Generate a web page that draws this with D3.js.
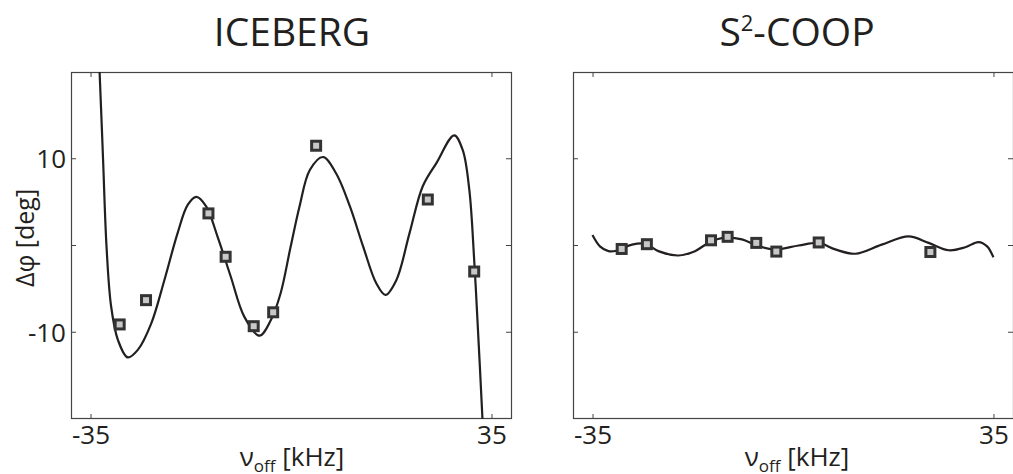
<!DOCTYPE html>
<html>
<head>
<meta charset="utf-8">
<script src="https://cdn.jsdelivr.net/npm/d3@7"></script>
<style>
  body { margin: 0; background: #fff; }
  svg { display: block; }
  text { font-family: "Open Sans", "Noto Sans", sans-serif; fill: #231f20; }
</style>
</head>
<body>
<div id="chart"></div>
<script>
// axis setup
var xTicks = [-35, 35];
var yTicks = [-10, 0, 10];
var yTickLabels = ["-10", "", "10"];

// measured points (squares)
var icebergMeasX = [-30.0, -25.4, -14.5, -11.5, -6.6, -3.2, 4.3, 23.8, 31.9];
var icebergMeasY = [-9.1, -6.3, 3.7, -1.3, -9.3, -7.7, 11.5, 5.3, -3.0];

var coopMeasX = [-30.0, -25.6, -14.4, -11.5, -6.5, -3.0, 4.4, 23.9];
var coopMeasY = [-0.4, 0.15, 0.6, 1.0, 0.3, -0.7, 0.35, -0.75];

// fitted curves
var icebergFitX = [-34.0, -33.5, -32.9, -32.3, -31.5, -30.3, -28.6, -26.8, -24.5, -22.2, -19.9, -18.1, -16.6,
    -14.9, -12.9, -10.6, -8.25, -5.6, -3.6, -1.9, -0.2, 1.4, 3.2, 5.5, 7.8, 10.2, 12.5, 14.8, 16.4,
    18.3, 20.6, 22.9, 25.3, 28.4, 29.9, 31.05, 31.9, 32.5, 33.35, 33.6];
var icebergFitY = [27, 19.9, 9.9, -0.1, -7.0, -10.9, -12.9, -12.0, -9.0, -4.0, 1.4, 4.7, 5.6,
    4.5, 1.0, -3.6, -8.2, -10.4, -8.6, -5.5, -0.3, 4.5, 8.7, 10.2, 8.3, 4.5, -0.1, -4.35, -5.7,
    -4.0, 1.4, 6.8, 9.5, 12.7, 11.0, 6.4, -1.7, -9.0, -20.1, -24];

var coopFitX = [-35.1, -33.8, -32.3, -30.9, -28.2, -25.9, -23.6, -20.1, -17.2, -14.6, -11.9, -9.0, -6.4,
    -3.2, 0.9, 4.4, 7.3, 10.8, 15.4, 20.1, 23.6, 27.1, 30.0, 32.3, 33.8, 34.9];
var coopFitY = [1.2, -0.1, -0.65, -0.6, 0.1, 0.2, -0.65, -1.15, -0.65, 0.4, 0.9, 0.7, 0.0,
    -0.45, 0.0, 0.3, -0.45, -0.95, 0.1, 1.05, 0.3, -0.55, -0.2, 0.4, -0.1, -1.35];

var panels = [
    { title: "ICEBERG", measX: icebergMeasX, measY: icebergMeasY, fitX: icebergFitX, fitY: icebergFitY,
      left: 71, right: 512, yLabels: true },
    { title: "S2-COOP", measX: coopMeasX, measY: coopMeasY, fitX: coopFitX, fitY: coopFitY,
      left: 573, right: 1014, yLabels: false }
];

var width = 1013,
    height = 474,
    plotTop = 72,
    plotBottom = 419,
    tickLen = 5,
    axisColor = '#444',
    lineColor = '#231f20';

var svg = d3.select("#chart").append("svg")
    .attr("width", width)
    .attr("height", height);

panels.forEach(function(p, pi) {

    var x = d3.scaleLinear().domain([-38.5, 38.5]).range([p.left, p.right]);
    var y = d3.scaleLinear().domain([-20, 20]).range([plotBottom, plotTop]);

    var g = svg.append("g");

    // clip for the fit curve
    var clipId = "clip" + pi;
    svg.append("clipPath").attr("id", clipId)
        .append("rect")
        .attr("x", p.left).attr("y", plotTop)
        .attr("width", p.right - p.left).attr("height", plotBottom - plotTop);

    // box
    g.append("rect")
        .attr("x", p.left + 0.5).attr("y", plotTop + 0.5)
        .attr("width", p.right - p.left - 1).attr("height", plotBottom - plotTop - 1)
        .attr("fill", "none")
        .attr("stroke", axisColor)
        .attr("stroke-width", 1.2);

    // inward ticks on all four sides
    g.selectAll(".xtb").data(xTicks).enter().append("line")
        .attr("x1", x).attr("x2", x)
        .attr("y1", plotBottom).attr("y2", plotBottom - tickLen)
        .attr("stroke", axisColor);
    g.selectAll(".xtt").data(xTicks).enter().append("line")
        .attr("x1", x).attr("x2", x)
        .attr("y1", plotTop).attr("y2", plotTop + tickLen)
        .attr("stroke", axisColor);
    g.selectAll(".ytl").data(yTicks).enter().append("line")
        .attr("x1", p.left).attr("x2", p.left + tickLen)
        .attr("y1", y).attr("y2", y)
        .attr("stroke", axisColor);
    g.selectAll(".ytr").data(yTicks).enter().append("line")
        .attr("x1", p.right - 1).attr("x2", p.right - 1 - tickLen)
        .attr("y1", y).attr("y2", y)
        .attr("stroke", axisColor);

    // tick labels
    g.selectAll(".xl").data(xTicks).enter().append("text")
        .attr("x", x)
        .attr("y", 444)
        .attr("text-anchor", "middle")
        .style("font-size", "26px")
        .text(function(d) { return d < 0 ? "-" + Math.abs(d) : d; });

    if (p.yLabels) {
        g.selectAll(".yl").data(yTicks).enter().append("text")
            .attr("x", 66)
            .attr("y", function(d) { return y(d) + 9.5; })
            .attr("text-anchor", "end")
            .style("font-size", "26px")
            .text(function(d, i) { return yTickLabels[i]; });

        g.append("text")
            .attr("transform", "translate(34,238) rotate(-90)")
            .attr("text-anchor", "middle")
            .style("font-size", "25px")
            .text("\u0394\u03c6 [deg]");
    }

    // x label
    var xl = g.append("text")
        .attr("x", pi ? 797 : 292)
        .attr("y", 466)
        .attr("text-anchor", "middle")
        .style("font-size", "26px");
    xl.append("tspan").text("\u03bd");
    xl.append("tspan").attr("dy", 6).style("font-size", "17px").text("off");
    xl.append("tspan").attr("dy", -6).text(" [kHz]");

    // title
    var t = g.append("text")
        .attr("x", pi ? 797 : 292)
        .attr("y", 46)
        .attr("text-anchor", "middle")
        .style("font-size", "39px");
    if (pi) {
        t.append("tspan").text("S");
        t.append("tspan").attr("dy", -15).style("font-size", "22px").text("2");
        t.append("tspan").attr("dy", 15).text("-COOP");
    } else {
        t.text(p.title);
    }

    // fit curve
    var fit = p.fitX.map(function(v, i) { return [v, p.fitY[i]]; });
    var line = d3.line()
        .curve(d3.curveCatmullRom.alpha(0.5))
        .x(function(d) { return x(d[0]); })
        .y(function(d) { return y(d[1]); });

    g.append("path")
        .datum(fit)
        .attr("clip-path", "url(#" + clipId + ")")
        .attr("d", line)
        .attr("fill", "none")
        .attr("stroke", lineColor)
        .attr("stroke-width", 2.2);

    // measured squares
    var meas = p.measX.map(function(v, i) { return [v, p.measY[i]]; });
    g.selectAll(".m").data(meas).enter().append("rect")
        .attr("x", function(d) { return x(d[0]) - 4.5; })
        .attr("y", function(d) { return y(d[1]) - 4.5; })
        .attr("width", 9)
        .attr("height", 9)
        .attr("fill", "#c8c8c8")
        .attr("stroke", "#333")
        .attr("stroke-width", 3);
});
</script>
</body>
</html>
